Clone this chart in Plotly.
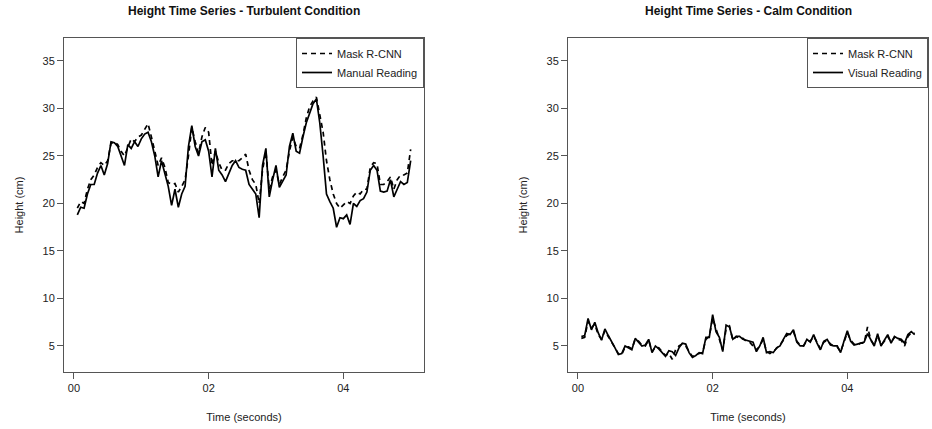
import plotly.graph_objects as go
from plotly.subplots import make_subplots

time_s = [round(0.05 * i, 2) for i in range(1, 101)]

turb_manual = [
    18.8, 19.6, 19.5, 21.0, 22.0, 22.0, 23.2, 24.0, 23.0, 24.2,
    26.5, 26.4, 26.0, 25.0, 24.0, 26.2, 25.8, 26.5, 26.0, 26.8,
    27.3, 27.5, 26.5, 25.0, 22.8, 24.5, 23.0, 21.8, 19.8, 21.5,
    19.6, 21.0, 21.8, 26.0, 28.2, 26.0, 25.0, 26.5, 26.7, 25.5,
    22.8, 25.8, 23.5, 23.0, 22.3, 23.2, 24.0, 24.5, 23.8, 23.6,
    23.5, 22.0, 21.5, 21.0, 18.5, 24.0, 25.8, 20.7, 22.5, 24.0,
    21.7, 22.3, 23.0, 26.0, 27.4, 25.5, 25.3, 27.0, 28.5, 29.5,
    30.5, 31.0, 28.5, 25.0, 21.0, 20.2, 19.5, 17.5, 18.5, 18.4,
    18.8, 17.8, 20.0, 19.7, 20.3, 20.5, 21.2, 23.5, 24.0, 23.5,
    21.3, 21.2, 21.3, 22.5, 20.7, 21.5, 22.3, 22.0, 22.2, 24.5,
]
turb_mask = [
    19.5, 20.2, 20.0, 21.5, 22.5, 23.0, 23.8, 24.3, 24.0, 24.5,
    26.3, 26.5, 26.2, 25.5, 25.0, 26.0, 26.8, 26.5, 27.0, 27.2,
    27.8, 28.4, 27.0, 25.5, 24.0, 24.8, 23.8, 22.2, 22.0, 22.1,
    21.2, 21.8, 22.5, 25.0, 28.0, 26.5, 25.3, 27.0, 28.0, 27.5,
    24.0, 25.5, 24.3, 23.5, 23.5, 24.2, 24.5, 24.5, 24.5, 24.8,
    25.2, 23.5, 22.5, 22.0, 20.0, 23.5, 25.5, 21.5, 22.8, 23.5,
    22.0, 22.8, 23.5, 25.5, 27.0, 26.0, 25.8, 27.2, 29.0, 30.2,
    30.8, 31.2, 29.5, 27.5, 24.5, 22.5, 21.0, 20.0, 19.5, 19.8,
    20.2, 20.0, 20.8, 21.2, 21.0, 21.5, 21.5, 23.8, 24.3, 24.2,
    22.0, 22.0, 22.3, 22.8, 21.5, 22.5, 23.0, 23.0, 23.2, 25.7,
]
calm_visual = [
    6.0, 6.1, 7.9, 6.7, 7.5, 6.4, 5.6, 6.8, 6.1, 5.5,
    4.8, 4.1, 4.2, 5.0, 4.8, 4.6, 5.8, 5.4, 5.0, 5.1,
    5.7, 4.3, 5.0, 4.7, 4.3, 3.9, 4.5, 4.4, 4.0, 4.8,
    5.3, 5.2, 4.3, 3.8, 4.0, 4.3, 4.2, 5.9, 5.9, 8.3,
    6.5, 5.9, 4.4, 7.2, 7.0, 5.7, 6.0, 6.0, 5.7, 5.6,
    5.5, 5.4, 4.4, 5.0, 5.9, 4.3, 4.4, 4.3, 4.8, 5.0,
    5.7, 6.3, 6.2, 6.7, 5.4, 5.0, 5.0, 5.7, 5.4, 6.2,
    5.3, 4.6, 5.5, 5.7, 5.1, 5.0, 5.0, 4.3, 5.5, 6.6,
    5.5, 5.1, 5.2, 5.3, 5.4, 6.3, 5.7, 5.0, 6.3, 5.0,
    5.6, 6.2, 5.3, 6.0, 5.8, 5.7, 5.3, 6.2, 6.5, 6.2,
]
calm_mask = [
    5.8, 5.9, 7.6, 6.9, 7.3, 6.2, 5.7, 6.6, 6.0, 5.4,
    4.9, 4.2, 4.1, 4.9, 4.9, 4.7, 5.7, 5.5, 5.1, 5.0,
    5.6, 4.4, 4.9, 4.8, 4.4, 4.0, 4.2, 3.6, 4.6, 5.0,
    5.2, 5.0, 4.4, 3.9, 4.1, 4.2, 4.3, 5.7, 6.0, 7.9,
    6.7, 5.7, 4.6, 6.8, 7.1, 5.6, 6.0, 5.8, 5.8, 5.5,
    5.4, 5.0, 4.6, 5.0, 5.7, 4.4, 4.2, 4.4, 4.7, 5.1,
    5.6, 6.1, 6.3, 6.5, 5.5, 5.1, 5.0, 5.6, 5.5, 6.0,
    5.4, 4.7, 5.4, 5.6, 5.2, 5.0, 4.9, 4.4, 5.4, 6.4,
    5.6, 5.2, 5.1, 5.3, 5.3, 7.0, 5.6, 5.1, 6.1, 5.1,
    5.5, 6.0, 5.4, 5.9, 5.7, 5.6, 5.0, 6.0, 6.4, 6.3,
]

x_tick_vals = [0, 2, 4]
x_tick_text = ["00", "02", "04"]
y_tick_vals = [5, 10, 15, 20, 25, 30, 35]
titles = ["Height Time Series - Turbulent Condition", "Height Time Series - Calm Condition"]

W, H = 932, 429
ml, mr, mt, mb = 64, 4, 38, 57
pw = W - ml - mr
split1 = (424 - ml) / pw
split2 = (568 - ml) / pw

fig = make_subplots(rows=1, cols=2, horizontal_spacing=split2 - split1)
fig.update_xaxes(domain=[0, split1], row=1, col=1)
fig.update_xaxes(domain=[split2, 1], row=1, col=2)

dash = "5px,4px"
lw = 1.7
fig.add_trace(go.Scatter(x=time_s, y=turb_mask, mode="lines", name="Mask R-CNN",
                         line=dict(color="black", width=lw, dash=dash), legend="legend"), 1, 1)
fig.add_trace(go.Scatter(x=time_s, y=turb_manual, mode="lines", name="Manual Reading",
                         line=dict(color="black", width=lw), legend="legend"), 1, 1)
fig.add_trace(go.Scatter(x=time_s, y=calm_mask, mode="lines", name="Mask R-CNN",
                         line=dict(color="black", width=lw, dash=dash), legend="legend2"), 1, 2)
fig.add_trace(go.Scatter(x=time_s, y=calm_visual, mode="lines", name="Visual Reading",
                         line=dict(color="black", width=lw), legend="legend2"), 1, 2)

font = "Liberation Sans, Arial, sans-serif"
axis_common = dict(showline=True, linecolor="#555", linewidth=1, mirror=True,
                   ticks="outside", ticklen=6, tickcolor="#555", showgrid=False,
                   zeroline=False, tickfont=dict(size=11, color="#222", family=font))
for c in (1, 2):
    fig.update_xaxes(range=[-0.148, 5.198], tickvals=x_tick_vals, ticktext=x_tick_text,
                     title=dict(text="Time (seconds)", font=dict(size=11, color="#222", family=font),
                                standoff=20),
                     row=1, col=c, **axis_common)
    fig.update_yaxes(range=[2.26, 37.42], tickvals=y_tick_vals,
                     title=dict(text="Height (cm)", font=dict(size=11, color="#222", family=font),
                                standoff=16),
                     row=1, col=c, **axis_common)

legend_common = dict(yanchor="top", xanchor="right", y=1, bgcolor="white",
                     bordercolor="#555", borderwidth=1,
                     font=dict(size=11, color="#222", family=font),
                     itemwidth=30, tracegroupgap=0)
fig.update_layout(
    width=W, height=H,
    margin=dict(l=ml, r=mr, t=mt, b=mb),
    paper_bgcolor="white", plot_bgcolor="white",
    showlegend=True,
    legend=dict(x=split1, **legend_common),
    legend2=dict(x=1, **legend_common),
)

for i, (t, d0, d1) in enumerate([(titles[0], 0, split1), (titles[1], split2, 1)]):
    fig.add_annotation(text="<b>" + t + "</b>", x=(d0 + d1) / 2, xref="paper",
                       y=1, yref="paper", yshift=27, xanchor="center", yanchor="middle",
                       showarrow=False, font=dict(size=12, color="#111", family=font))

fig.write_html("out.html")
